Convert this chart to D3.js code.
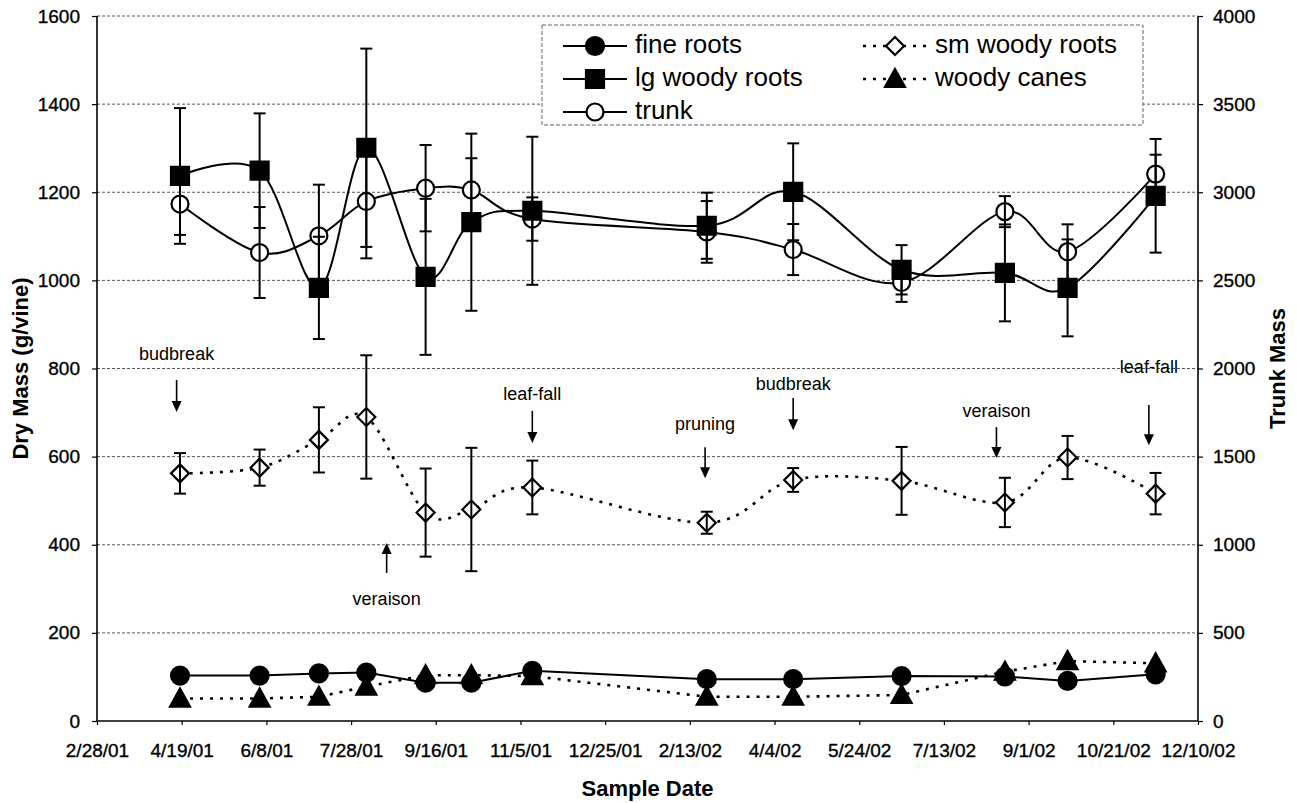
<!DOCTYPE html>
<html>
<head>
<meta charset="utf-8">
<script src="https://cdn.jsdelivr.net/npm/d3@7"></script>
<style>
  body { margin: 0; background: #fff; }
  svg { display: block; font-family: "Liberation Sans", Arial, sans-serif; }
</style>
</head>
<body>
<svg id="chart" width="1297" height="803"></svg>
<script>
// x axis tick labels (every 50 days)
const tickLabels = ["2/28/01", "4/19/01", "6/8/01", "7/28/01", "9/16/01", "11/5/01", "12/25/01",
    "2/13/02", "4/4/02", "5/24/02", "7/13/02", "9/1/02", "10/21/02", "12/10/02"];

const sampleDates = ["4/18/01", "6/4/01", "7/9/01", "8/6/01", "9/10/01", "10/7/01", "11/12/01",
    "2/23/02", "4/15/02", "6/18/02", "8/18/02", "9/24/02", "11/15/02"];

// dry mass, g/vine (left axis)
const fineRoots = [103, 103, 108, 110, 87, 87, 114, 95, 95, 102, 101, 91, 106];
const smWoodyRoots = [562, 575, 638, 690, 473, 480, 530, 450, 547, 545, 496, 598, 516];
const smWoodyErr = [46, 41, 74, 140, 100, 140, 61, 25, 27, 77, 56, 49, 47];
const lgWoodyRoots = [1237, 1249, 983, 1301, 1008, 1132, 1158, 1124, 1201, 1024, 1017, 983, 1192];
const lgWoodyErr = [154, 130, 116, 225, 177, 201, 168, 75, 110, 56, 110, 110, 129];
const woodyCanes = [51, 51, 55, 78, 104, 104, 102, 55, 55, 59, 112, 136, 131];

// trunk mass (right axis)
const trunk = [2933, 2658, 2753, 2948, 3023, 3013, 2848, 2775, 2675, 2488, 2890, 2663, 3103];
const trunkErr = [175, 258, 290, 323, 245, 180, 123, 175, 145, 110, 88, 155, 110];

// phenology notes: arrow tip / tail and label height in g/vine
const noteLabels = ["budbreak", "veraison", "leaf-fall", "pruning", "budbreak", "veraison", "leaf-fall"];
const noteDates = ["4/16/01", "8/18/01", "11/12/01", "2/22/02", "4/15/02", "8/13/02", "11/11/02"];
const noteTip = [701, 404, 631, 551, 660, 597, 626];
const noteTail = [774, 336, 704, 621, 733, 667, 717];
const noteText = [830, 275, 740, 671, 762, 701, 801];

const leftTicks = [0, 200, 400, 600, 800, 1000, 1200, 1400, 1600];
const rightTicks = [0, 500, 1000, 1500, 2000, 2500, 3000, 3500, 4000];

const parse = d3.utcParse("%m/%d/%y");
const svg = d3.select("#chart");

const plot = { left: 97, right: 1198, top: 16, bottom: 721 };

const x = d3.scaleUtc()
    .domain([parse(tickLabels[0]), parse(tickLabels[tickLabels.length - 1])])
    .range([plot.left, plot.right]);
const y = d3.scaleLinear().domain([0, 1600]).range([plot.bottom, plot.top]);
const y2 = d3.scaleLinear().domain([0, 4000]).range([plot.bottom, plot.top]);

const dates = sampleDates.map(parse);

// gridlines
svg.append("g")
    .selectAll("line")
    .data(leftTicks.slice(1))
    .join("line")
    .attr("x1", plot.left).attr("x2", plot.right)
    .attr("y1", d => y(d)).attr("y2", d => y(d))
    .attr("stroke", "#555")
    .attr("stroke-width", 1)
    .attr("stroke-dasharray", "3,2");

// axes
const fontSize = 19;
const leftAxis = svg.append("g")
    .attr("transform", `translate(${plot.left},0)`)
    .call(d3.axisLeft(y).tickValues(leftTicks).tickFormat(d3.format("d")).tickSize(5).tickPadding(12));
const rightAxis = svg.append("g")
    .attr("transform", `translate(${plot.right},0)`)
    .call(d3.axisRight(y2).tickValues(rightTicks).tickFormat(d3.format("d")).tickSize(5).tickPadding(10));
const bottomAxis = svg.append("g")
    .attr("transform", `translate(0,${plot.bottom})`)
    .call(d3.axisBottom(x).tickValues(tickLabels.map(parse)).tickSize(4).tickPadding(19)
        .tickFormat((d, i) => tickLabels[i]));

[leftAxis, rightAxis, bottomAxis].forEach(a => {
    a.select(".domain").attr("stroke", "#000").attr("stroke-width", 1.6);
    a.selectAll(".tick line").attr("stroke", "#000").attr("stroke-width", 1.2);
    a.selectAll("text")
        .attr("font-family", "Liberation Sans, Arial, sans-serif")
        .attr("font-size", fontSize)
        .attr("fill", "#000")
        .attr("stroke", "#000")
        .attr("stroke-width", 0.35);
});
leftAxis.select(".domain").attr("d", `M0,${plot.top}V${plot.bottom}`);
rightAxis.select(".domain").attr("d", `M0,${plot.top}V${plot.bottom}`);
bottomAxis.select(".domain").attr("d", `M${plot.left},0H${plot.right}`);

// axis titles
svg.append("text")
    .attr("transform", `translate(22,${(plot.top + plot.bottom) / 2}) rotate(-90)`)
    .attr("text-anchor", "middle")
    .attr("dominant-baseline", "middle")
    .attr("font-size", 22).attr("font-weight", "bold")
    .text("Dry Mass (g/vine)");

svg.append("text")
    .attr("transform", `translate(1279,${(plot.top + plot.bottom) / 2}) rotate(-90)`)
    .attr("text-anchor", "middle")
    .attr("dominant-baseline", "middle")
    .attr("font-size", 22).attr("font-weight", "bold")
    .text("Trunk Mass");

svg.append("text")
    .attr("x", (plot.left + plot.right) / 2)
    .attr("y", 796)
    .attr("text-anchor", "middle")
    .attr("font-size", 22).attr("font-weight", "bold")
    .text("Sample Date");

// markers
const shapes = {
    filledCircle: { path: "M9,0A9,9 0 1,1 -9,0A9,9 0 1,1 9,0Z", fill: "#000" },
    openCircle: { path: "M8.5,0A8.5,8.5 0 1,1 -8.5,0A8.5,8.5 0 1,1 8.5,0Z", fill: "#fff" },
    square: { path: "M-9,-9H9V9H-9Z", fill: "#000" },
    diamond: { path: "M0,-9L9,0L0,9L-9,0Z", fill: "#fff" },
    triangle: { path: "M0,-10L10,8H-10Z", fill: "#000" }
};

const series = [
    { name: "fine roots", values: fineRoots, scale: y, shape: "filledCircle", dash: null, curve: d3.curveLinear },
    { name: "lg woody roots", values: lgWoodyRoots, err: lgWoodyErr, scale: y, shape: "square", dash: null, curve: d3.curveCatmullRom.alpha(0) },
    { name: "trunk", values: trunk, err: trunkErr, scale: y2, shape: "openCircle", dash: null, curve: d3.curveCatmullRom.alpha(0) },
    { name: "sm woody roots", values: smWoodyRoots, err: smWoodyErr, scale: y, shape: "diamond", dash: "3,7", curve: d3.curveCatmullRom.alpha(0) },
    { name: "woody canes", values: woodyCanes, scale: y, shape: "triangle", dash: "3,7", curve: d3.curveLinear }
];

const drawOrder = ["sm woody roots", "woody canes", "fine roots", "trunk", "lg woody roots"];

drawOrder.forEach(name => {
    const s = series.find(d => d.name === name);
    const pts = s.values.map((v, i) => [x(dates[i]), s.scale(v)]);
    const g = svg.append("g");

    g.append("path")
        .attr("d", d3.line().curve(s.curve)(pts))
        .attr("fill", "none")
        .attr("stroke", "#000")
        .attr("stroke-width", s.dash ? 2.6 : 2)
        .attr("stroke-dasharray", s.dash);

    g.selectAll("path.mk")
        .data(pts)
        .join("path")
        .attr("class", "mk")
        .attr("transform", d => `translate(${d[0]},${d[1]})`)
        .attr("d", shapes[s.shape].path)
        .attr("fill", shapes[s.shape].fill)
        .attr("stroke", "#000")
        .attr("stroke-width", 2.2);

    if (s.err) {
        const eb = g.append("g").attr("stroke", "#000").attr("stroke-width", 2);
        s.values.forEach((v, i) => {
            const cx = x(dates[i]);
            const hi = s.scale(v + s.err[i]);
            const lo = s.scale(v - s.err[i]);
            eb.append("line").attr("x1", cx).attr("x2", cx).attr("y1", hi).attr("y2", lo);
            eb.append("line").attr("x1", cx - 6).attr("x2", cx + 6).attr("y1", hi).attr("y2", hi);
            eb.append("line").attr("x1", cx - 6).attr("x2", cx + 6).attr("y1", lo).attr("y2", lo);
        });
    }
});

// phenology annotations
const notes = svg.append("g");
noteLabels.forEach((label, i) => {
    const nx = x(parse(noteDates[i]));
    const tip = y(noteTip[i]);
    const tail = y(noteTail[i]);
    const dir = tip > tail ? 1 : -1;
    notes.append("line")
        .attr("x1", nx).attr("x2", nx)
        .attr("y1", tail).attr("y2", tip - dir * 8)
        .attr("stroke", "#000").attr("stroke-width", 1.6);
    notes.append("path")
        .attr("d", `M${nx},${tip}L${nx - 5},${tip - dir * 11}L${nx + 5},${tip - dir * 11}Z`)
        .attr("fill", "#000");
    notes.append("text")
        .attr("x", nx)
        .attr("y", y(noteText[i]))
        .attr("text-anchor", "middle")
        .attr("dominant-baseline", "middle")
        .attr("font-size", 18)
        .text(label);
});

// legend
const legend = svg.append("g");
legend.append("rect")
    .attr("x", 542).attr("y", 25)
    .attr("width", 601).attr("height", 100)
    .attr("fill", "#fff")
    .attr("stroke", "#666")
    .attr("stroke-width", 1)
    .attr("stroke-dasharray", "4,2");

const legendItems = [
    { name: "fine roots", col: 0, row: 0 },
    { name: "lg woody roots", col: 0, row: 1 },
    { name: "trunk", col: 0, row: 2 },
    { name: "sm woody roots", col: 1, row: 0 },
    { name: "woody canes", col: 1, row: 1 }
];
const rowY = [46, 79, 112];
const colX = [563, 863];

legendItems.forEach(item => {
    const s = series.find(d => d.name === item.name);
    const lx = colX[item.col];
    const ly = rowY[item.row];
    legend.append("line")
        .attr("x1", lx).attr("x2", lx + 64)
        .attr("y1", ly).attr("y2", ly)
        .attr("stroke", "#000")
        .attr("stroke-width", s.dash ? 2.6 : 2)
        .attr("stroke-dasharray", s.dash);
    legend.append("path")
        .attr("transform", `translate(${lx + 32},${ly})`)
        .attr("d", shapes[s.shape].path)
        .attr("fill", shapes[s.shape].fill)
        .attr("stroke", "#000")
        .attr("stroke-width", 2.2);
    legend.append("text")
        .attr("x", lx + 72)
        .attr("y", ly)
        .attr("dominant-baseline", "middle")
        .attr("font-size", 26)
        .text(s.name);
});
</script>
</body>
</html>
